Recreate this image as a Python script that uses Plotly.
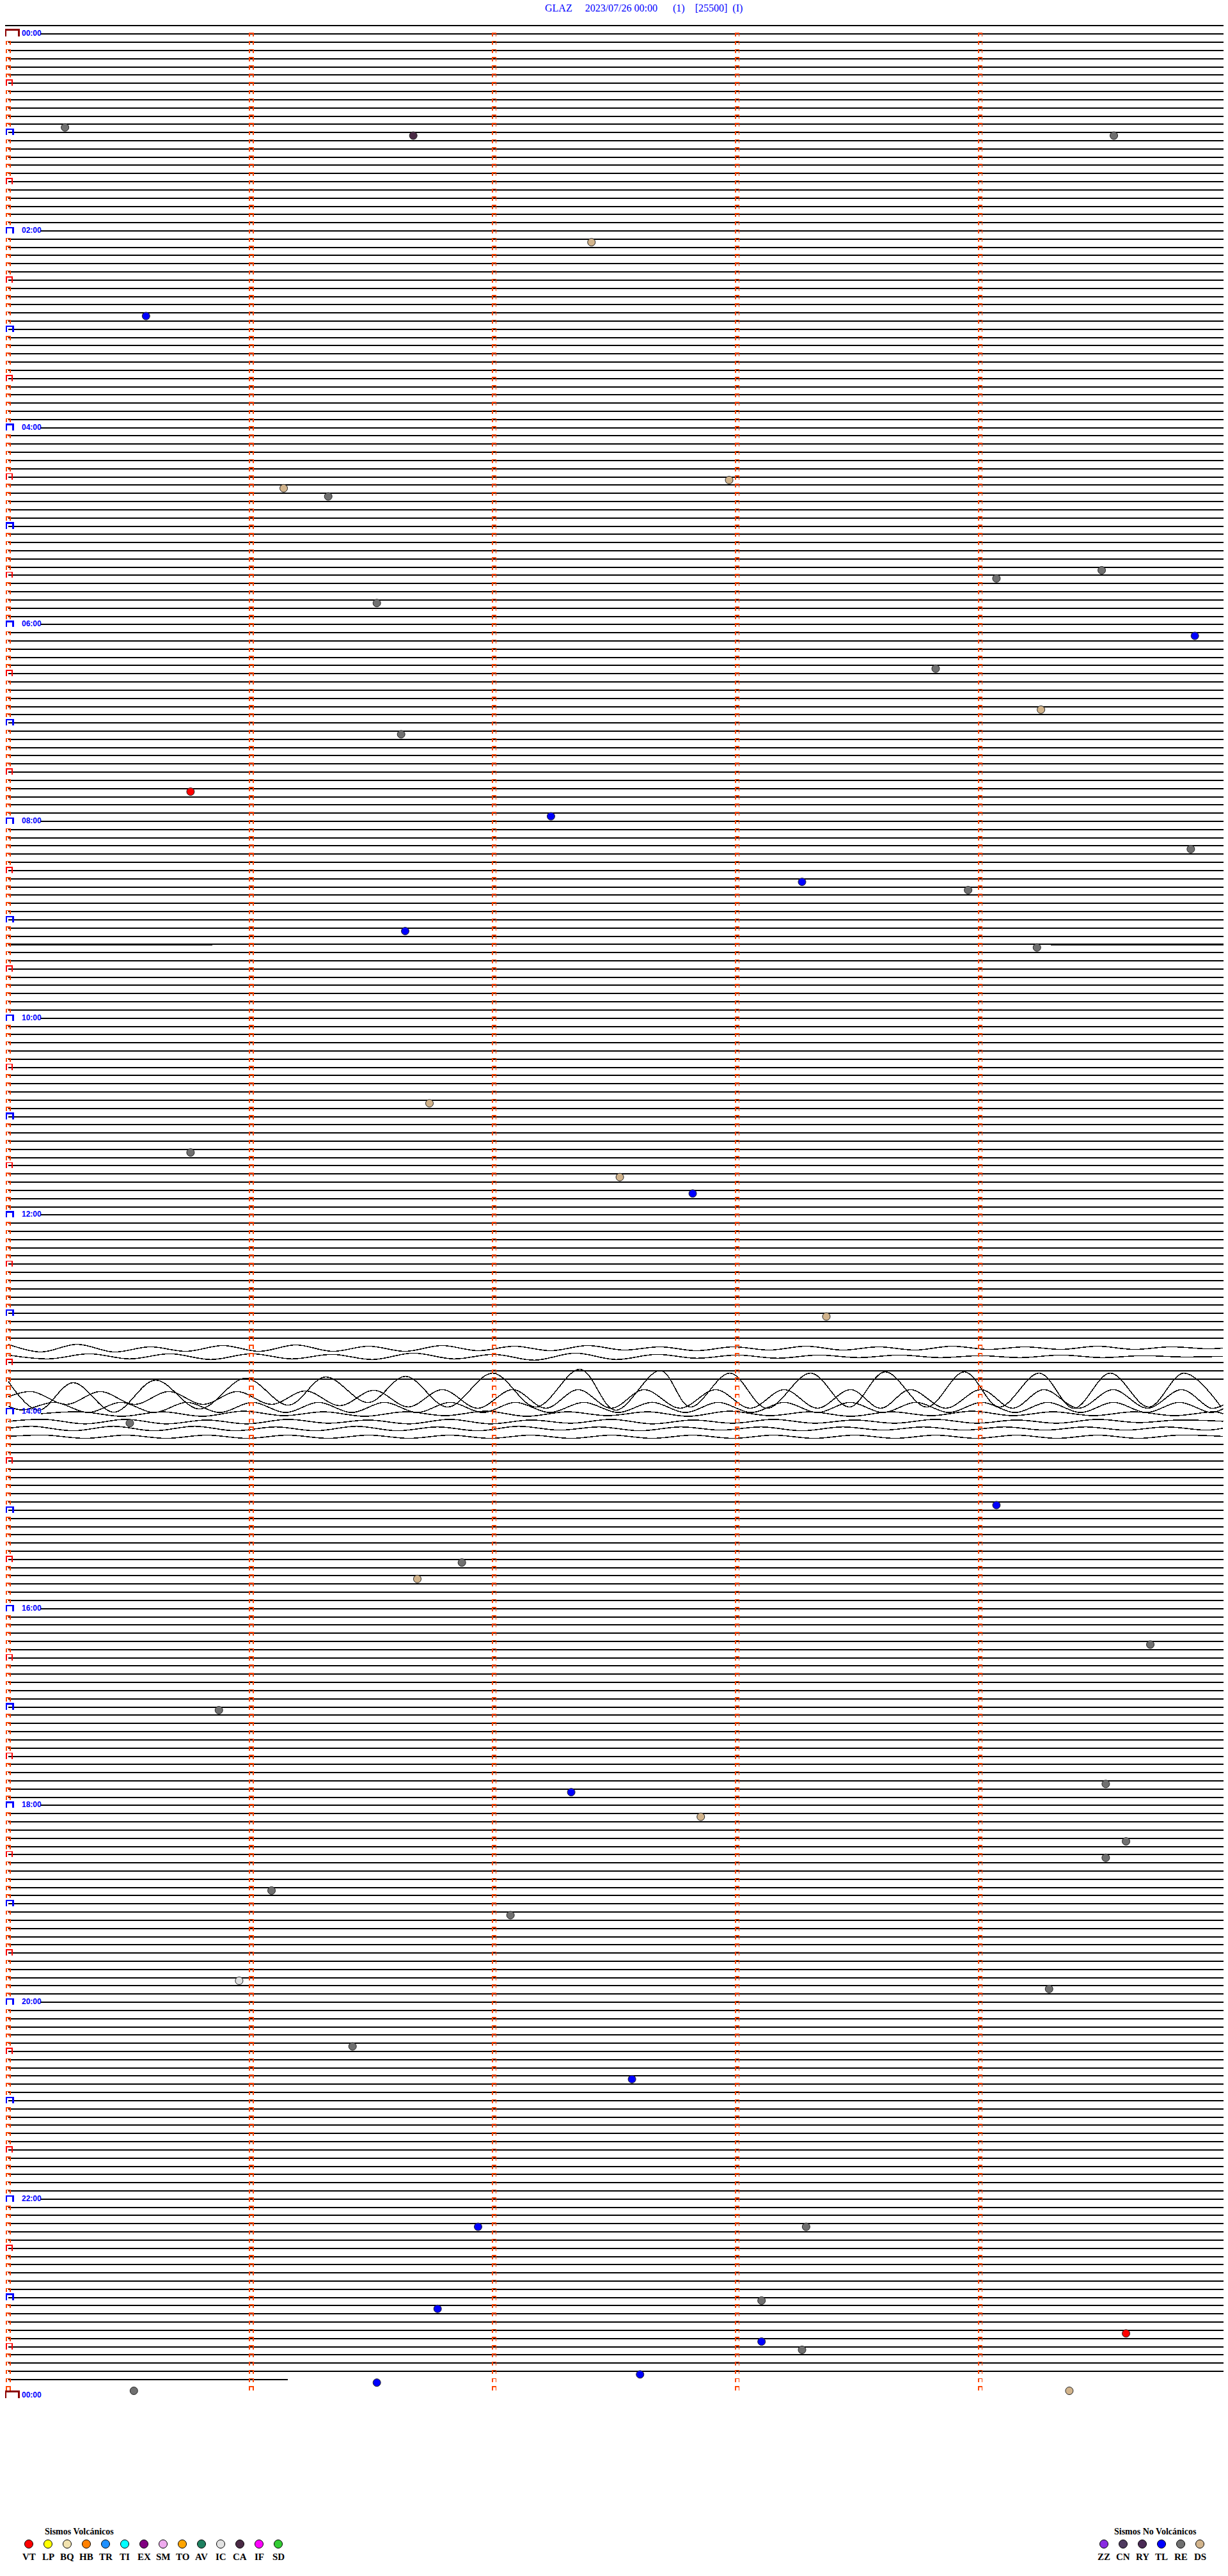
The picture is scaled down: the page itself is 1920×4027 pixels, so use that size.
import plotly.graph_objects as go

# ---------------- geometry of the helicorder page (pixels) ----------------
W, H = 1920, 4027
ROW_PX, TOP_PX, LEFT_PX, MIN_PX = 12.82, 53.3, 13.0, 379.9

# ---------------- data ----------------
ROW_MINUTES = 5
N_ROWS = 288
DATA_END = "23:51:09"
LABEL_EVERY = 24
hour_labels = ["00:00", "02:00", "04:00", "06:00", "08:00", "10:00", "12:00",
               "14:00", "16:00", "18:00", "20:00", "22:00", "00:00"]
title_text = "GLAZ     2023/07/26 00:00      (1)    [25500]  (I)"

event_time = ["00:55:14", "01:01:40", "01:04:33", "02:07:24", "02:50:34", "04:32:58",
              "04:36:08", "04:41:19", "05:29:30", "05:34:04", "05:46:31", "06:09:53",
              "06:28:49", "06:54:15", "07:06:37", "07:40:45", "07:57:14", "08:19:52",
              "08:38:16", "08:43:57", "09:06:38", "09:19:14", "10:51:44", "11:20:45",
              "11:37:31", "11:47:49", "13:03:22", "14:05:30", "14:59:04", "15:31:52",
              "15:41:41", "16:24:42", "17:00:52", "17:49:31", "17:52:19", "18:07:51",
              "18:24:36", "18:34:31", "18:51:05", "19:07:04", "19:45:57", "19:54:17",
              "20:26:25", "20:47:34", "22:16:56", "22:18:17", "23:03:06", "23:06:46",
              "23:24:36", "23:28:06", "23:33:16", "23:47:36", "23:51:31", "23:55:31",
              "23:59:22"]
event_type = ["RE", "CA", "RE", "DS", "TL", "DS",
              "DS", "RE", "RE", "RE", "RE", "TL",
              "RE", "DS", "RE", "VT", "TL", "RE",
              "TL", "RE", "TL", "RE", "DS", "RE",
              "DS", "TL", "DS", "RE", "TL", "RE",
              "DS", "RE", "RE", "RE", "TL", "DS",
              "RE", "RE", "RE", "RE", "IC", "RE",
              "RE", "TL", "TL", "RE", "RE", "TL",
              "VT", "TL", "RE", "TL", "TL", "RE",
              "DS"]

volc_codes = ["VT", "LP", "BQ", "HB", "TR", "TI", "EX", "SM", "TO", "AV", "IC", "CA", "IF", "SD"]
volc_colors = ["#FF0000", "#FFFF00", "#F2E3B0", "#FF8000", "#1E90FF", "#00FFFF", "#800080",
               "#EEAAEE", "#FFA500", "#1E8060", "#E2E2E2", "#4A2A45", "#FF00FF", "#33CC33"]
novolc_codes = ["ZZ", "CN", "RY", "TL", "RE", "DS"]
novolc_colors = ["#8A2BE2", "#4F3A5F", "#4A2A55", "#0000FF", "#707070", "#D2B48C"]

# noisy stretches of quiet rows: (row, start minute, end minute)
noisy_rows = [111, 111]
noisy_start = [0.0, 4.29]
noisy_end = [0.84, 5.0]

# surface-wave rows: row index -> (seconds into row, displacement in px)
wave_rows = {
    160: ([0, 8, 17, 26, 35, 44, 53, 62, 71, 80, 89, 98, 107, 116, 125, 134, 143, 152, 161, 170,
           179, 188, 197, 206, 215, 224, 233, 242, 251, 260, 269, 278, 287, 296, 300],
          [-3, 9, -3, 9, 1, 8, -1, 8, -2, 8, 0, 8, -1, 7, 0, 7, -1, 6, 1, 7,
           1, 6, 0, 6, 1, 6, 0, 5, 1, 5, 0, 5, 1, 4, 3]),
    161: ([0, 10, 20, 30, 40, 50, 60, 70, 80, 90, 100, 110, 120, 130, 140, 150, 160, 170, 180, 190,
           200, 210, 220, 230, 240, 250, 260, 270, 280, 290, 300],
          [1, 7, -1, 7, -1, 8, -1, 7, 0, 8, -2, 7, 0, 9, -2, 8, 0, 6, 1, 6,
           1, 5, 1, 5, 2, 5, 1, 5, 2, 4, 3]),
    165: ([0, 7.4, 16.0, 26.1, 36.3, 47.2, 58.6, 69.2, 78.3, 88.9, 98.1, 108.5, 119.6, 130.3, 141.2,
           149.9, 161.0, 168.4, 178.2, 187.3, 198.1, 207.7, 216.5, 226.8, 236.1, 244.7, 254.6, 263.1,
           272.1, 281.6, 290.3, 299.5],
          [-9, 36, -7, 39, -11, 34, -14, 28, -16, 24, -17, 31, -22, 31, -28, 36, -26, 31, -22, 33,
           -22, 31, -24, 31, -24, 31, -22, 33, -22, 31, -22, 31]),
    166: ([0, 5.8, 14.3, 22.7, 31.2, 39.6, 48.1, 56.5, 65.0, 73.4, 81.9, 90.3, 98.8, 107.2, 115.9,
           124.6, 132.7, 140.7, 148.9, 157.0, 165.9, 174.7, 183.2, 191.6, 199.8, 208.0, 215.4, 222.7,
           231.5, 240.2, 248.0, 255.7, 264.3, 272.8, 281.3, 289.8, 297, 300],
          [2, -6, 14, -6, 14, -6, 14, -6, 14, -7, 16, -8, 18, -9, 20, -9, 20, -9, 20, -9,
           20, -9, 20, -9, 20, -9, 20, -9, 20, -9, 20, -9, 20, -9, 20, -9, 20, 15]),
    167: ([0, 3.4, 11.5, 19.7, 27.8, 36.0, 44.1, 52.2, 60.3, 68.5, 76.6, 84.8, 92.9, 101.0, 109.1,
           117.2, 125.2, 133.7, 142.1, 150.6, 159.0, 167.2, 175.3, 183.5, 191.6, 199.8, 207.9, 216.0,
           224.1, 232.3, 240.4, 248.6, 256.7, 264.8, 272.9, 281.1, 289.2, 297, 300],
          [4, 10, -2, 14, -2, 14, -2, 14, -2, 14, -2, 14, -2, 14, -2, 14, -2, 14, -2, 14,
           -2, 14, -2, 14, -2, 14, -2, 14, -2, 14, -2, 14, -2, 14, -2, 14, -2, 14, 8]),
    168: ([8, 18, 28, 38, 48, 58, 68, 78, 88, 98, 108, 118, 128, 138, 148, 158, 168, 178, 188, 198,
           208, 218, 228, 238, 248, 258, 268, 278, 288, 298, 300],
          [3, 0, 7, 0, 7, -1, 6, 0, 7, 0, 6, -1, 7, 0, 6, 0, 7, -1, 6, 0,
           7, 0, 6, -1, 6, 0, 6, 0, 6, 0, 3]),
    169: ([0, 9, 19, 29, 39, 49, 59, 69, 79, 89, 99, 109, 119, 129, 139, 149, 159, 169, 179, 189,
           199, 209, 219, 229, 239, 249, 259, 269, 279, 289, 300],
          [2, -1, 6, -1, 6, 0, 6, -1, 5, 0, 6, -1, 6, 0, 5, -1, 6, 0, 5, -1,
           5, 0, 5, -1, 5, 0, 5, -1, 4, 0, 2]),
    170: ([0, 6, 16, 26, 36, 46, 56, 66, 76, 86, 96, 106, 116, 126, 136, 146, 156, 166, 176, 186,
           196, 206, 216, 226, 236, 246, 256, 266, 276, 286, 296, 300],
          [0, -3, 4, -3, 4, -3, 4, -2, 4, -3, 4, -2, 4, -3, 3, -2, 4, -2, 3, -2,
           4, -2, 3, -2, 3, -2, 3, -2, 3, -2, 3, 0]),
    171: ([0, 9, 19, 29, 39, 49, 59, 69, 79, 89, 99, 109, 119, 129, 139, 149, 159, 169, 179, 189,
           199, 209, 219, 229, 239, 249, 259, 269, 279, 289, 300],
          [0, -2, 3, -2, 3, -2, 3, -2, 3, -2, 3, -2, 3, -2, 3, -2, 3, -2, 3, -2,
           3, -2, 3, -2, 3, -2, 3, -2, 3, -2, 0]),
}

# ---------------- helpers ----------------
PX_X = 1.0 / MIN_PX   # minutes per pixel
PX_Y = 1.0 / ROW_PX   # rows per pixel


def to_min(s):
    h, m, sec = (int(v) for v in s.split(":"))
    return h * 60 + m + sec / 60.0


end_min = to_min(DATA_END)
label_start = 50 * PX_X   # trace resumes after the time label

fig = go.Figure()

# ---------------- quiet traces ----------------
qx, qy = [], []
qx += [-5 * PX_X, ROW_MINUTES, None]
qy += [-1, -1, None]
for k in range(N_ROWS):
    t0 = k * ROW_MINUTES
    if t0 >= end_min or k in wave_rows:
        continue
    start = label_start if k % LABEL_EVERY == 0 else 0.0
    stop = min(ROW_MINUTES, end_min - t0)
    qx += [start, stop, None]
    qy += [k, k, None]
fig.add_trace(go.Scatter(x=qx, y=qy, mode="lines", line=dict(color="black", width=2.0),
                         hoverinfo="skip"))

nx, ny = [], []
for k, a, b in zip(noisy_rows, noisy_start, noisy_end):
    nx += [a, b, None]
    ny += [k, k, None]
fig.add_trace(go.Scatter(x=nx, y=ny, mode="lines", line=dict(color="black", width=3.5),
                         hoverinfo="skip"))

# ---------------- wave traces ----------------
for k, (secs, disp) in wave_rows.items():
    fig.add_trace(go.Scatter(x=[s / 60.0 for s in secs], y=[k + d * PX_Y for d in disp],
                             mode="lines", line=dict(color="black", width=1.5, shape="spline",
                                                     smoothing=1.0),
                             hoverinfo="skip"))


# ---------------- minute / hour markers ----------------
def cap(xc, half_w, k, top, bot):
    xa, xb = xc - half_w * PX_X, xc + half_w * PX_X
    ya, yb = k + top * PX_Y, k + bot * PX_Y
    return [xa, xa, xb, xb, None], [yb, ya, ya, yb, None]


ox, oy = [], []
bx, by = [], []
rx, ry = [], []
dx, dy = [], []
for k in range(N_ROWS + 1):
    if k < N_ROWS:
        for j in range(1, ROW_MINUTES):
            a, b = cap(j, 2.8, k, -1.5, 4.0)
            ox += a; oy += b
    if k % 288 == 0:
        a, b = cap(6.3 * PX_X, 10.3, k, -7.0, 3.5)
        dx += a; dy += b
    elif k % 12 == 0:
        a, b = cap(2.3 * PX_X, 5.3, k, -5.0, 4.0)
        bx += a; by += b
    elif k % 12 == 6:
        a, b = cap(1.5 * PX_X, 4.5, k, -5.0, 4.0)
        rx += a; ry += b
    else:
        a, b = cap(0.0, 2.8, k, -1.5, 4.0)
        ox += a; oy += b

fig.add_trace(go.Scatter(x=ox, y=oy, mode="lines", line=dict(color="#FF4500", width=1.6),
                         hoverinfo="skip"))
fig.add_trace(go.Scatter(x=bx, y=by, mode="lines", line=dict(color="#0000FF", width=2.4),
                         hoverinfo="skip"))
fig.add_trace(go.Scatter(x=rx, y=ry, mode="lines", line=dict(color="#FF0000", width=1.6),
                         hoverinfo="skip"))
fig.add_trace(go.Scatter(x=dx, y=dy, mode="lines", line=dict(color="#8B0000", width=2.6),
                         hoverinfo="skip"))

# ---------------- hour labels ----------------
annotations = []
for i, lab in enumerate(hour_labels):
    annotations.append(dict(x=19 * PX_X, y=i * LABEL_EVERY - 0.08, xref="x", yref="y",
                            text=lab, showarrow=False, xanchor="left", yanchor="middle",
                            font=dict(family="Liberation Sans, Arial", size=12, color="#0000FF",
                                      weight="bold")))

# ---------------- event dots ----------------
type_color = dict(zip(volc_codes + novolc_codes, volc_colors + novolc_colors))
ev_x, ev_y, ev_c = [], [], []
for t, ty in zip(event_time, event_type):
    m = to_min(t)
    row = int(m // ROW_MINUTES)
    ev_x.append(m - row * ROW_MINUTES)
    ev_y.append(row + 0.38)
    ev_c.append(type_color[ty])
fig.add_trace(go.Scatter(x=ev_x, y=ev_y, mode="markers",
                         marker=dict(size=12, color=ev_c, line=dict(color="#222222", width=1)),
                         hoverinfo="skip"))

# ---------------- legend (pixel overlay axes) ----------------
lx = [45 + 30 * i for i in range(len(volc_codes))] + [1726 + 30 * i for i in range(len(novolc_codes))]
lc = volc_colors + novolc_colors
fig.add_trace(go.Scatter(x=lx, y=[3977] * len(lx), xaxis="x2", yaxis="y2", mode="markers",
                         marker=dict(size=13, color=lc, line=dict(color="black", width=1)),
                         hoverinfo="skip"))
for xpos, code in zip(lx, volc_codes + novolc_codes):
    annotations.append(dict(x=xpos, y=3997, xref="x2", yref="y2", text=code, showarrow=False,
                            xanchor="center", yanchor="middle",
                            font=dict(family="Liberation Serif, Times New Roman", size=15,
                                      color="black", weight="bold")))
annotations.append(dict(x=124, y=3957, xref="x2", yref="y2", text="Sismos Volcánicos",
                        showarrow=False, xanchor="center", yanchor="middle",
                        font=dict(family="Liberation Serif, Times New Roman", size=14,
                                  color="black", weight="bold")))
annotations.append(dict(x=1806, y=3957, xref="x2", yref="y2", text="Sismos No Volcánicos",
                        showarrow=False, xanchor="center", yanchor="middle",
                        font=dict(family="Liberation Serif, Times New Roman", size=14,
                                  color="black", weight="bold")))

# ---------------- title ----------------
annotations.append(dict(x=1006.5, y=13, xref="x2", yref="y2",
                        text=title_text.replace(" ", "\u00a0"), showarrow=False,
                        xanchor="center", yanchor="middle",
                        font=dict(family="Liberation Serif, Times New Roman", size=16,
                                  color="#0000FF")))

fig.update_layout(
    width=W, height=H, margin=dict(l=0, r=0, t=0, b=0),
    paper_bgcolor="white", plot_bgcolor="white", showlegend=False,
    xaxis=dict(range=[-LEFT_PX / MIN_PX, (W - LEFT_PX) / MIN_PX], visible=False,
               fixedrange=True, domain=[0, 1]),
    yaxis=dict(range=[(H - TOP_PX) / ROW_PX, -TOP_PX / ROW_PX], visible=False,
               fixedrange=True, domain=[0, 1]),
    xaxis2=dict(range=[0, W], visible=False, overlaying="x", fixedrange=True),
    yaxis2=dict(range=[H, 0], visible=False, overlaying="y", fixedrange=True),
    annotations=annotations,
)

fig.write_html(
    "out.html",
    config={"displayModeBar": False, "staticPlot": True},
    post_script=("document.body.style.margin='0px';"
                 "document.querySelectorAll('.js-line').forEach(function(p){"
                 "p.setAttribute('shape-rendering','crispEdges');});"),
)
